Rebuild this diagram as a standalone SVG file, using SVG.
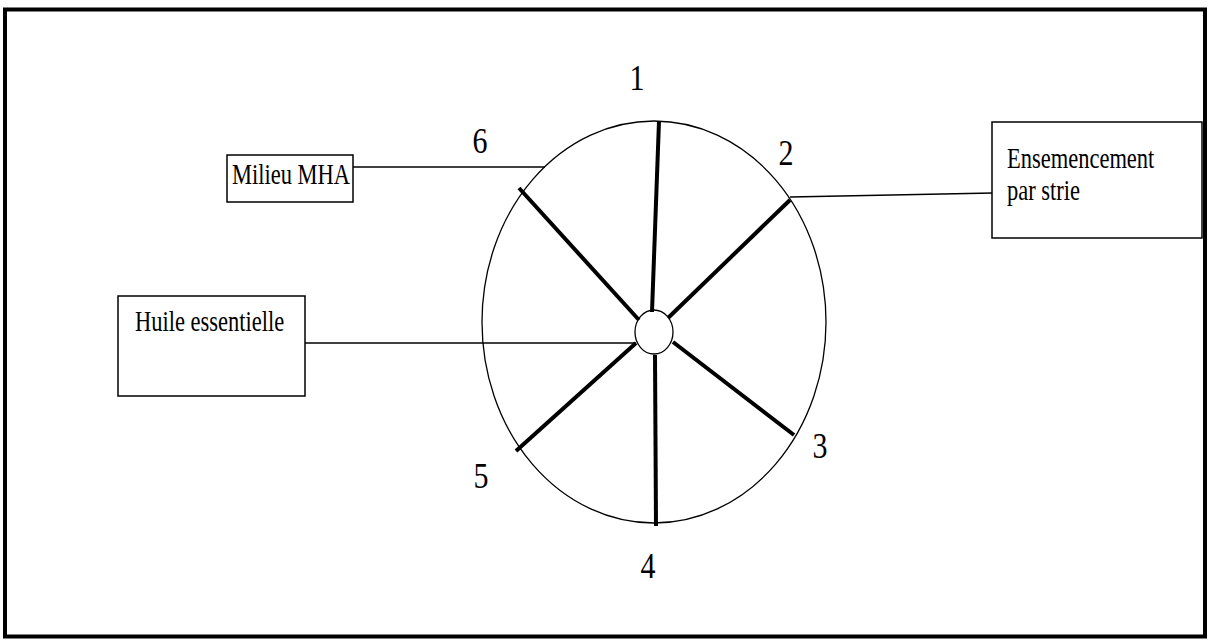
<svg xmlns="http://www.w3.org/2000/svg" width="1209" height="642" viewBox="0 0 1209 642">
<style>
.frame{fill:none;stroke:#000;stroke-width:4}
.box{fill:#fff;stroke:#000;stroke-width:1.5}
.thin{fill:none;stroke:#000;stroke-width:1.3}
.spoke{stroke:#000;stroke-width:4;stroke-linecap:butt}
.lbl{font-size:22.5px;fill:#000}
.num{font-size:30px;fill:#000;text-anchor:middle}
</style>
<rect width="1209" height="642" fill="#fff"/>
<rect class="frame" x="5" y="9.5" width="1200" height="627"/>
<g id="connectors">
<line class="thin" x1="353" y1="167" x2="545" y2="167"/>
<line class="thin" x1="790" y1="197" x2="993" y2="193"/>
<line class="thin" x1="305" y1="343" x2="636" y2="343"/>
</g>
<g id="plate">
<ellipse class="thin" cx="654" cy="322" rx="172" ry="201"/>
<line class="spoke" x1="659" y1="121" x2="652" y2="312"/>
<line class="spoke" x1="790" y1="200" x2="668" y2="318"/>
<line class="spoke" x1="673" y1="342" x2="794" y2="435"/>
<line class="spoke" x1="655" y1="355" x2="656" y2="526"/>
<line class="spoke" x1="636" y1="343" x2="516" y2="451"/>
<line class="spoke" x1="519" y1="188" x2="639" y2="320"/>
<ellipse class="thin" cx="654" cy="332" rx="19" ry="22" fill="#fff"/>
</g>
<g id="numbers" font-family="Liberation Serif, serif">
<text class="num" transform="matrix(1,0,0,1.2,637,90)">1</text>
<text class="num" transform="matrix(1,0,0,1.2,786,165)">2</text>
<text class="num" transform="matrix(1,0,0,1.2,820,458)">3</text>
<text class="num" transform="matrix(1,0,0,1.2,648,578)">4</text>
<text class="num" transform="matrix(1,0,0,1.2,481,488)">5</text>
<text class="num" transform="matrix(1,0,0,1.2,480,153)">6</text>
</g>
<g id="milieu" font-family="Liberation Serif, serif">
<rect class="box" x="227" y="155" width="126" height="47"/>
<text class="lbl" transform="matrix(1,0,0,1.3,232,184)">Milieu MHA</text>
</g>
<g id="huile" font-family="Liberation Serif, serif">
<rect class="box" x="118" y="296" width="187" height="100"/>
<text class="lbl" transform="matrix(1,0,0,1.3,135,331)">Huile essentielle</text>
</g>
<g id="ensemencement" font-family="Liberation Serif, serif">
<rect class="box" x="992" y="122" width="210" height="116"/>
<text class="lbl" transform="matrix(1,0,0,1.3,1007,168)">Ensemencement</text>
<text class="lbl" transform="matrix(1,0,0,1.3,1007,200)">par strie</text>
</g>
</svg>
